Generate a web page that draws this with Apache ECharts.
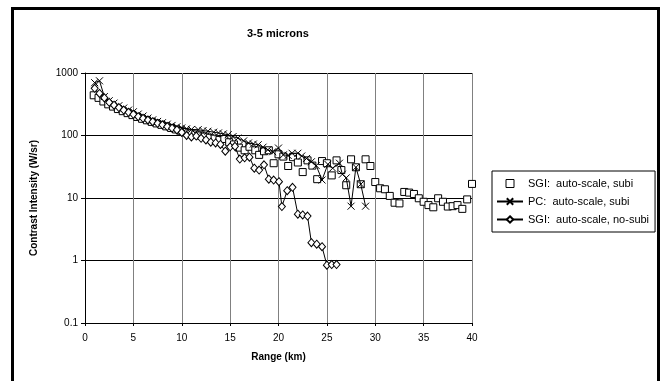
<!DOCTYPE html>
<html><head><meta charset="utf-8">
<script src="https://cdn.jsdelivr.net/npm/echarts@6/dist/echarts.min.js"></script>
<style>html,body{margin:0;padding:0;background:#fff}#c{width:661px;height:381px}</style>
</head><body><div id="c"></div>
<script>
// SGI: auto-scale, subi (squares, no line)
const sgiSubiRange = [0.9,1.4,1.9,2.4,2.9,3.4,3.9,4.4,4.9,5.4,5.9,6.4,6.9,7.4,7.9,8.4,8.9,9.4,9.9,10.4,10.9,11.4,11.9,12.4,12.9,13.4,13.9,14.4,14.9,15.4,15.9,16.5,17.0,17.6,18.0,18.5,19.0,19.5,20.0,20.5,21.0,21.5,22.0,22.5,23.0,23.5,24.0,24.5,25.0,25.5,26.0,26.5,27.0,27.5,28.0,28.5,29.0,29.5,30.0,30.5,31.0,31.5,32.0,32.5,33.0,33.5,34.0,34.5,35.0,35.5,36.0,36.5,37.0,37.5,38.0,38.5,39.0,39.5,40.0];
const sgiSubiValue = [440,400,350,315,290,265,245,228,212,198,185,175,165,156,148,140,132,125,119,113,108,104,100,96,92,89,85,88,78,72,64,58,66,58,49,56,58,36,50,46,32.5,45,37,26,40,33,20,39,36,23,40,28,16,41.6,31,16.6,41.6,32.5,18,14.3,13.8,10.8,8.4,8.2,12.5,12.2,11.6,9.9,8.7,7.7,7.1,9.9,8.7,7.3,7.4,7.7,6.7,9.5,16.8];

// PC: auto-scale, subi (x markers, line)
const pcSubiRange = [1.0,1.5,2.0,2.5,3.0,3.5,4.0,4.5,5.0,5.5,6.0,6.5,7.0,7.5,8.0,8.5,9.0,9.5,10.0,10.5,11.0,11.7,12.2,12.7,13.3,13.8,14.3,14.8,15.3,15.8,16.4,16.9,17.4,17.9,18.4,18.9,19.4,20.0,20.5,21.0,21.4,22.0,22.4,22.9,23.4,23.9,24.5,25.1,25.6,26.3,26.6,27.0,27.5,28.0,28.5,29.0];
const pcSubiValue = [700,750,420,360,330,300,275,255,240,220,205,190,178,168,160,152,145,138,132,128,125,124,120,117,113,110,106,103,96,91,82,76,73,71,65,59,55,63,49,48,52,52,47,43,38,33,19.4,34.6,30,36,24,21,7.4,31,16.6,7.4];

// SGI: auto-scale, no-subi (diamonds, line)
const sgiNoSubiRange = [1.0,1.5,2.0,2.5,3.0,3.5,4.0,4.5,5.0,5.5,6.0,6.5,7.0,7.5,8.0,8.5,9.0,9.5,10.0,10.5,11.0,11.5,12.0,12.5,13.0,13.5,14.0,14.5,15.0,15.5,16.0,16.5,17.0,17.5,18.0,18.5,19.0,19.5,20.05,20.35,20.9,21.45,22.0,22.5,23.0,23.4,23.95,24.5,25.0,25.5,26.0];
const sgiNoSubiValue = [570,470,400,340,305,280,255,235,218,200,188,177,166,157,148,139,131,123,112,100,95,98,90,85,78,76,72,56,66,67,42,44,45,30,28,34,20,19.4,18.2,7.3,13.1,14.8,5.5,5.35,5.15,1.93,1.82,1.66,0.84,0.86,0.86];

const seriesNames = ['SGI:  auto-scale, subi', 'PC:  auto-scale, subi', 'SGI:  auto-scale, no-subi'];
const yTickValues = [0.1, 1, 10, 100, 1000];
const yTickLabels = ['0.1', '1', '10', '100', '1000'];

function pairs(xs, ys) { return xs.map((x, i) => [x, ys[i]]); }
function yLabel(v) {
  for (let i = 0; i < yTickValues.length; i++) {
    if (Math.abs(Math.log10(v) - Math.log10(yTickValues[i])) < 1e-6) return yTickLabels[i];
  }
  return '';
}

const FONT = 'Liberation Sans, Arial, sans-serif';
const chart = echarts.init(document.getElementById('c'), null, {renderer: 'canvas'});
chart.setOption({
  animation: false,
  backgroundColor: '#fff',
  textStyle: {fontFamily: FONT, color: '#000'},
  title: {
    text: '3-5 microns', left: 247, top: 28, padding: 0,
    textStyle: {fontFamily: FONT, fontSize: 11, fontWeight: 'bold', color: '#000'}
  },
  grid: {left: 85, top: 73, width: 387, height: 250, containLabel: false},
  legend: {
    orient: 'vertical', left: 492, top: 171,
    padding: [7, 6, 7, 4], itemGap: 7, itemWidth: 26, itemHeight: 8,
    borderColor: '#000', borderWidth: 1, backgroundColor: '#fff',
    textStyle: {fontFamily: FONT, fontSize: 11, color: '#000'},
    data: seriesNames.map((n, i) => i === 0
      ? {name: n, icon: 'path://M0,0L10,0L10,10L0,10Z', itemStyle: {color: '#fff', borderColor: '#000', borderWidth: 1}}
      : {name: n})
  },
  xAxis: {
    type: 'value', min: 0, max: 40, interval: 5,
    name: 'Range (km)', nameLocation: 'middle', nameGap: 29,
    nameTextStyle: {fontFamily: FONT, fontSize: 10, fontWeight: 'bold', color: '#000'},
    axisLine: {show: true, onZero: false, lineStyle: {color: '#000', width: 1}},
    axisTick: {show: true, length: 3, lineStyle: {color: '#000'}},
    axisLabel: {fontFamily: FONT, fontSize: 10, color: '#000', margin: 10},
    splitLine: {show: true, lineStyle: {color: '#808080', width: 1}}
  },
  yAxis: {
    type: 'log', logBase: 10, min: 0.1, max: 1000,
    name: 'Contrast Intensity (W/sr)', nameLocation: 'middle', nameGap: 46, nameRotate: 90,
    nameTextStyle: {fontFamily: FONT, fontSize: 10, fontWeight: 'bold', color: '#000'},
    axisLine: {show: true, onZero: false, lineStyle: {color: '#000', width: 1}},
    axisTick: {show: true, length: 4, lineStyle: {color: '#000'}},
    axisLabel: {fontFamily: FONT, fontSize: 10, color: '#000', margin: 7, formatter: yLabel},
    splitLine: {show: true, lineStyle: {color: '#000', width: 1}}
  },
  graphic: [{
    type: 'rect', silent: true, z: 100,
    shape: {x: 12.5, y: 8.5, width: 646, height: 420},
    style: {fill: 'none', stroke: '#000', lineWidth: 3}
  }],
  series: [
    {
      name: seriesNames[0], type: 'scatter', data: pairs(sgiSubiRange, sgiSubiValue),
      symbol: 'rect', symbolSize: 7,
      itemStyle: {color: '#fff', borderColor: '#000', borderWidth: 1, opacity: 1},
      emphasis: {disabled: true}, z: 2
    },
    {
      name: seriesNames[1], type: 'line', data: pairs(pcSubiRange, pcSubiValue),
      symbol: 'path://M0,0L10,10M10,0L0,10', symbolSize: 7, showAllSymbol: true,
      lineStyle: {color: '#000', width: 1},
      itemStyle: {color: '#000', borderColor: '#000', borderWidth: 1},
      emphasis: {disabled: true}, z: 3
    },
    {
      name: seriesNames[2], type: 'line', data: pairs(sgiNoSubiRange, sgiNoSubiValue),
      symbol: 'diamond', symbolSize: [7, 8], showAllSymbol: true,
      lineStyle: {color: '#000', width: 1},
      itemStyle: {color: '#fff', borderColor: '#000', borderWidth: 1},
      emphasis: {disabled: true}, z: 4
    }
  ]
});
</script>
</body></html>
